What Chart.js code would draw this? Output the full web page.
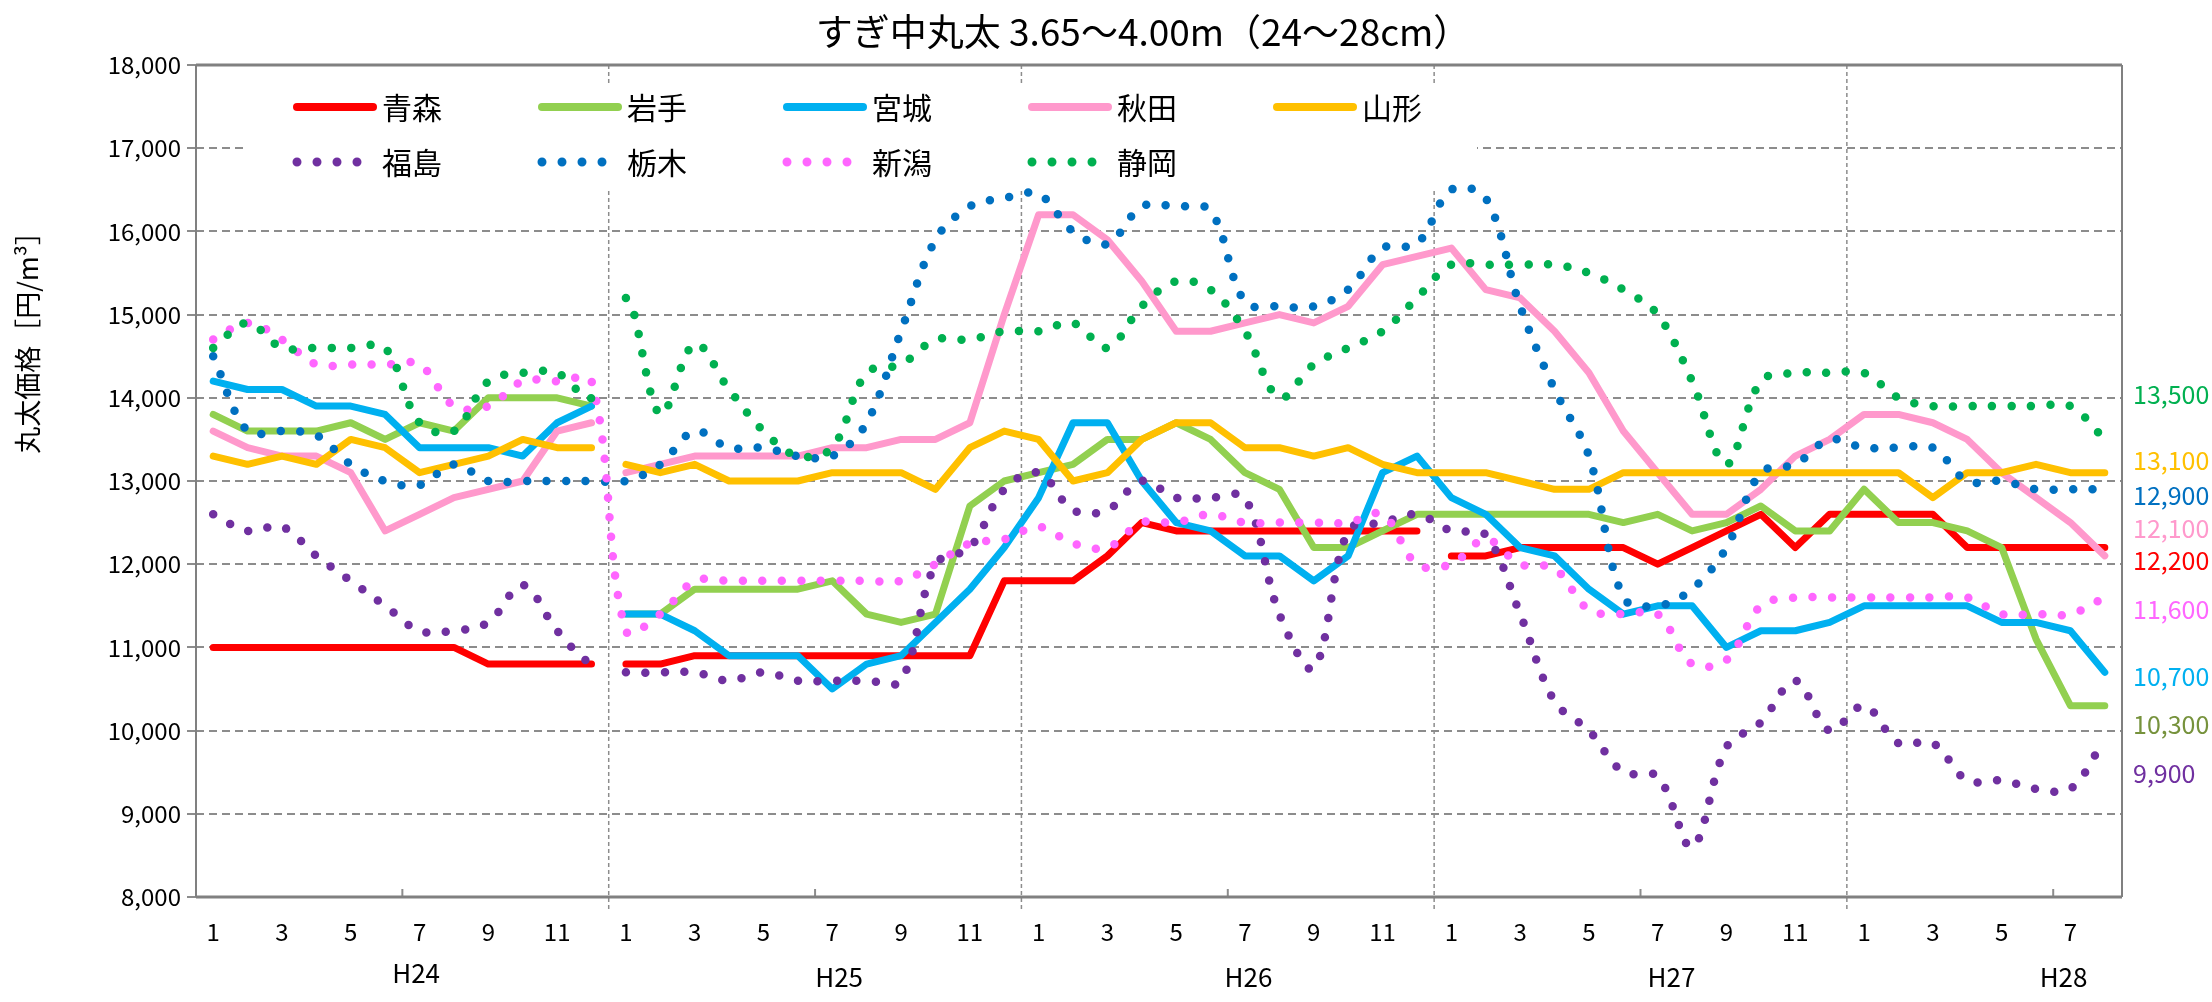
<!DOCTYPE html>
<html>
<head>
<meta charset="utf-8">
<script src="https://cdn.jsdelivr.net/npm/chart.js@4.4.1/dist/chart.umd.min.js"></script>
<style>
    html, body { margin: 0; background: #fff; }
</style>
</head>
<body>
<canvas id="chart" width="2212" height="1002"></canvas>
<script>
// month numbers H24/1 .. H28/8
var months = [1,2,3,4,5,6,7,8,9,10,11,12, 1,2,3,4,5,6,7,8,9,10,11,12,
              1,2,3,4,5,6,7,8,9,10,11,12, 1,2,3,4,5,6,7,8,9,10,11,12,
              1,2,3,4,5,6,7,8]
var years = ['H24', 'H25', 'H26', 'H27', 'H28']
var monthsPerYear = [12, 12, 12, 12, 8]
var yTicks = [8000, 18000, 1000]   // min, max, step

var names = ['青森', '岩手', '宮城', '秋田', '山形', '福島', '栃木', '新潟', '静岡']

var aomori = [11000,11000,11000,11000,11000,11000,11000,11000,10800,10800,10800,10800,
              10800,10800,10900,10900,10900,10900,10900,10900,10900,10900,10900,11800,
              11800,11800,12100,12500,12400,12400,12400,12400,12400,12400,12400,12400,
              12100,12100,12200,12200,12200,12200,12000,12200,12400,12600,12200,12600,
              12600,12600,12600,12200,12200,12200,12200,12200]
var iwate = [13800,13600,13600,13600,13700,13500,13700,13600,14000,14000,14000,13900,
             11400,11400,11700,11700,11700,11700,11800,11400,11300,11400,12700,13000,
             13100,13200,13500,13500,13700,13500,13100,12900,12200,12200,12400,12600,
             12600,12600,12600,12600,12600,12500,12600,12400,12500,12700,12400,12400,
             12900,12500,12500,12400,12200,11100,10300,10300]
var miyagi = [14200,14100,14100,13900,13900,13800,13400,13400,13400,13300,13700,13900,
              11400,11400,11200,10900,10900,10900,10500,10800,10900,11300,11700,12200,
              12800,13700,13700,13000,12500,12400,12100,12100,11800,12100,13100,13300,
              12800,12600,12200,12100,11700,11400,11500,11500,11000,11200,11200,11300,
              11500,11500,11500,11500,11300,11300,11200,10700]
var akita = [13600,13400,13300,13300,13100,12400,12600,12800,12900,13000,13600,13700,
             13100,13200,13300,13300,13300,13300,13400,13400,13500,13500,13700,15000,
             16200,16200,15900,15400,14800,14800,14900,15000,14900,15100,15600,15700,
             15800,15300,15200,14800,14300,13600,13100,12600,12600,12900,13300,13500,
             13800,13800,13700,13500,13100,12800,12500,12100]
var yamagata = [13300,13200,13300,13200,13500,13400,13100,13200,13300,13500,13400,13400,
                13200,13100,13200,13000,13000,13000,13100,13100,13100,12900,13400,13600,
                13500,13000,13100,13500,13700,13700,13400,13400,13300,13400,13200,13100,
                13100,13100,13000,12900,12900,13100,13100,13100,13100,13100,13100,13100,
                13100,13100,12800,13100,13100,13200,13100,13100]
var fukushima = [12600,12400,12450,12100,11800,11500,11200,11200,11300,11750,11200,10800,
                 10700,10700,10700,10600,10700,10600,10600,10600,10600,12000,12200,12900,
                 13100,12650,12650,13000,12800,12800,12800,11400,10750,12400,12500,12600,
                 12400,12350,11400,10350,10000,9500,9450,8600,9800,10100,10600,10000,
                 10300,9850,9850,9400,9400,9300,9300,9900]
var tochigi = [14500,13600,13600,13550,13200,13000,12950,13200,13000,13000,13000,13000,
               13000,13200,13600,13400,13400,13300,13300,13700,14800,15900,16300,16400,
               16450,16000,15850,16300,16300,16250,15150,15100,15100,15300,15800,15850,
               16500,16400,15100,14100,13300,11600,11500,11700,12200,13100,13200,13500,
               13400,13400,13400,13000,13000,12900,12900,12900]
var niigata = [14700,14900,14700,14400,14400,14400,14400,13900,13900,14200,14200,14200,
               11200,11400,11800,11800,11800,11800,11800,11800,11800,12000,12250,12300,
               12450,12250,12200,12500,12500,12600,12500,12500,12500,12500,12600,12000,
               12000,12300,12000,11950,11450,11400,11400,10800,10850,11500,11600,11600,
               11600,11600,11600,11600,11400,11400,11400,11600]
var shizuoka = [14600,14900,14600,14600,14600,14600,13700,13600,14200,14300,14300,14000,
                15200,13800,14650,14100,13600,13300,13400,14300,14400,14700,14700,14800,
                14800,14900,14600,15100,15400,15300,14800,14000,14400,14600,14800,15200,
                15600,15600,15600,15600,15500,15300,15000,14200,13200,14200,14300,14300,
                14300,14000,13900,13900,13900,13900,13900,13500]

var series = [aomori, iwate, miyagi, akita, yamagata, fukushima, tochigi, niigata, shizuoka]
var colors = ['#FF0000', '#92D050', '#00B0F0', '#FF99CC', '#FFC000', '#7030A0', '#0070C0', '#FF66FF', '#00B050']
var labelColors = ['#FF0000', '#76923C', '#00B0F0', '#FF99CC', '#FFC000', '#7030A0', '#0070C0', '#FF66FF', '#00B050']
var dotted = [false, false, false, false, false, true, true, true, true]
// where a line is not joined to the next month
var breaks = [[11, 35], [11], [11], [11], [11], [11], [], [], [11]]
// where the end value labels sit, in axis units
var endLabelAt = [12040, 10070, 10645, 12425, 13250, 9490, 12820, 11450, 14045]

var FONT = '"Noto Sans CJK JP", "Noto Sans", sans-serif'
var GRID = '#8c8c8c'

function datasetFor(i) {
    var ds = {
        label: names[i],
        data: series[i],
        borderColor: colors[i],
        backgroundColor: colors[i],
        pointRadius: 0,
        pointHoverRadius: 0,
        fill: false,
        order: names.length - i,
        segment: {
            borderColor: (c) => breaks[i].includes(c.p0DataIndex) ? 'rgba(0,0,0,0)' : undefined
        }
    }
    if (dotted[i]) {
        ds.borderWidth = 8.5
        ds.borderDash = [0, 19.5]
        ds.borderCapStyle = 'round'
        ds.tension = 0.35
    } else {
        ds.borderWidth = 7
        ds.borderJoinStyle = 'round'
        ds.borderCapStyle = 'round'
        ds.tension = 0
    }
    return ds
}

function line(ctx, x1, y1, x2, y2) {
    ctx.beginPath()
    ctx.moveTo(x1, y1)
    ctx.lineTo(x2, y2)
    ctx.stroke()
}

var decor = {
    id: 'decor',
    beforeDatasetsDraw(chart) {
        let ctx = chart.ctx, a = chart.chartArea, x = chart.scales.x
        ctx.save()

        // year separators and mid-year ticks
        ctx.strokeStyle = GRID
        let idx = 0
        monthsPerYear.forEach((n, k) => {
            let mid = (x.getPixelForValue(idx + 5) + x.getPixelForValue(idx + 6)) / 2
            ctx.setLineDash([])
            ctx.lineWidth = 2
            line(ctx, mid, a.bottom, mid, a.bottom - 8)
            idx += n
            if (k < monthsPerYear.length - 1) {
                let px = (x.getPixelForValue(idx - 1) + x.getPixelForValue(idx)) / 2
                ctx.setLineDash([4, 3])
                ctx.lineWidth = 1.5
                line(ctx, px, a.top, px, a.bottom + 12)
            }
        })

        // legend
        ctx.setLineDash([])
        ctx.fillStyle = '#fff'
        ctx.fillRect(245, 84, 1232, 106)
        ctx.font = '30px ' + FONT
        ctx.textBaseline = 'middle'
        names.forEach((name, i) => {
            let row = i < 5 ? 0 : 1
            let col = i < 5 ? i : i - 5
            let x0 = 297 + col * 245
            let y0 = row ? 162 : 107
            ctx.strokeStyle = colors[i]
            ctx.lineCap = 'round'
            if (dotted[i]) {
                ctx.lineWidth = 9
                ctx.setLineDash([0, 20])
                line(ctx, x0, y0, x0 + 62, y0)
            } else {
                ctx.lineWidth = 8
                ctx.setLineDash([])
                line(ctx, x0, y0, x0 + 76, y0)
            }
            ctx.setLineDash([])
            ctx.fillStyle = '#000'
            ctx.fillText(name, x0 + 85, y0 + 1)
        })
        ctx.restore()
    },
    afterDraw(chart) {
        let ctx = chart.ctx, a = chart.chartArea, x = chart.scales.x, y = chart.scales.y
        ctx.save()

        // plot frame
        ctx.strokeStyle = '#808080'
        ctx.lineWidth = 2
        line(ctx, a.left, a.top, a.left, a.bottom)
        line(ctx, a.right, a.top, a.right, a.bottom)
        ctx.lineWidth = 3
        line(ctx, a.left, a.top, a.right, a.top)
        line(ctx, a.left, a.bottom, a.right, a.bottom)

        // title
        ctx.fillStyle = '#000'
        ctx.textAlign = 'center'
        ctx.textBaseline = 'middle'
        ctx.font = '37px ' + FONT
        ctx.fillText('すぎ中丸太 3.65～4.00m（24～28cm）', 1143, 32)

        // y axis title
        ctx.save()
        ctx.translate(28, 336)
        ctx.rotate(-Math.PI / 2)
        ctx.font = '27px ' + FONT
        ctx.fillText('丸太価格［円/m³］', 0, 0)
        ctx.restore()

        // year labels
        ctx.font = '26px ' + FONT
        let yearAt = [5.9, 18.2, 30.1, 42.4, 53.8]
        years.forEach((yr, k) => {
            let px = x.getPixelForValue(0) + yearAt[k] * (x.getPixelForValue(1) - x.getPixelForValue(0))
            ctx.fillText(yr, px, k == 0 ? 973 : 977)
        })

        // last values at the right
        ctx.textAlign = 'left'
        ctx.font = '25px ' + FONT
        series.forEach((s, i) => {
            ctx.fillStyle = labelColors[i]
            ctx.fillText(s[s.length - 1].toLocaleString('en-US'), a.right + 11, y.getPixelForValue(endLabelAt[i]))
        })
        ctx.restore()
    }
}

new Chart(document.getElementById('chart').getContext('2d'), {
    type: 'line',
    data: {
        labels: months.map(String),
        datasets: names.map((n, i) => datasetFor(i))
    },
    options: {
        responsive: false,
        animation: false,
        devicePixelRatio: 1,
        layout: { padding: { top: 65, right: 90, left: 0, bottom: 0 } },
        plugins: {
            legend: { display: false },
            title: { display: false },
            tooltip: { enabled: false }
        },
        scales: {
            x: {
                type: 'category',
                offset: true,
                grid: { display: false, drawTicks: false },
                border: { display: false },
                ticks: {
                    autoSkip: false,
                    maxRotation: 0,
                    padding: 20,
                    color: '#000',
                    font: { family: FONT, size: 24 },
                    callback: (v, i) => months[i] % 2 ? months[i] : ''
                },
                afterFit: (scale) => { scale.height = 105 }
            },
            y: {
                min: yTicks[0],
                max: yTicks[1],
                ticks: {
                    stepSize: yTicks[2],
                    padding: 6,
                    color: '#000',
                    font: { family: FONT, size: 24 },
                    callback: (v) => v.toLocaleString('en-US')
                },
                grid: { color: GRID, lineWidth: 2, tickLength: 9 },
                border: { display: false, dash: [8, 5] },
                afterFit: (scale) => { scale.width = 196 }
            }
        }
    },
    plugins: [decor]
})
</script>
</body>
</html>
